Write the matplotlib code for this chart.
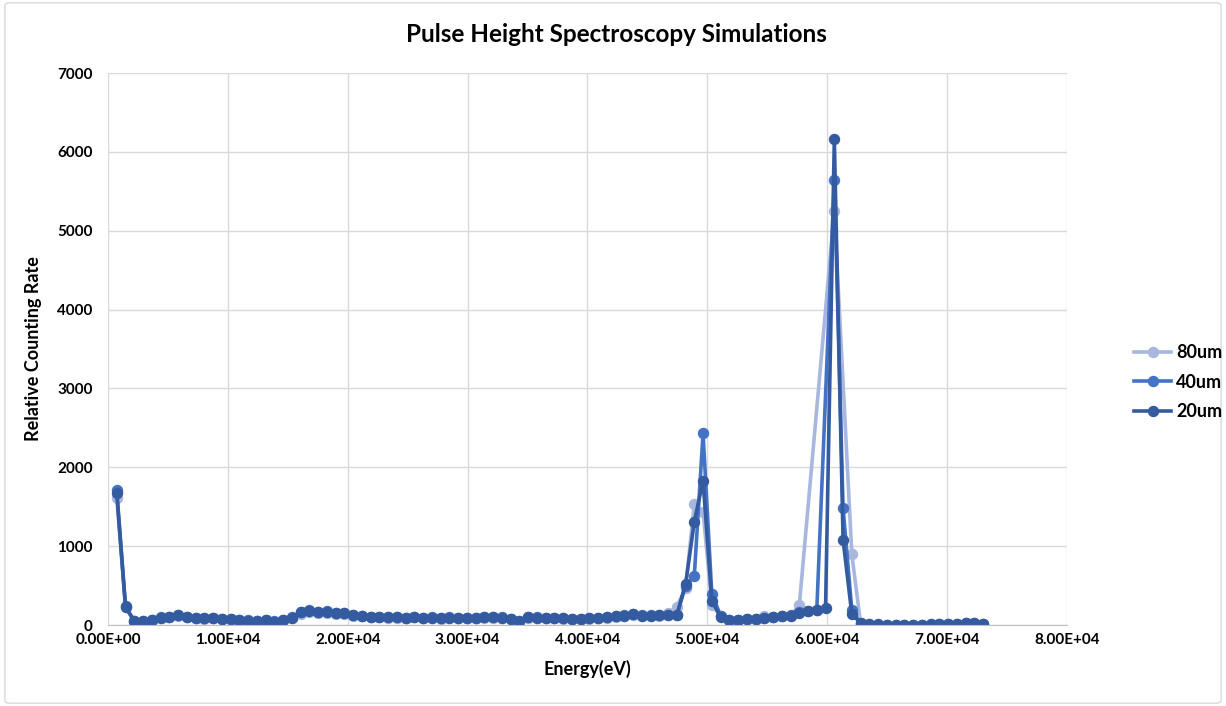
import matplotlib
matplotlib.use("Agg")
import matplotlib.pyplot as plt
from matplotlib.patches import FancyBboxPatch

# bin energies (eV)
energy = [730, 1460, 2190, 2920, 3650, 4380, 5110, 5840, 6570, 7300,
          8030, 8760, 9490, 10220, 10950, 11680, 12410, 13140, 13870, 14600,
          15330, 16060, 16790, 17520, 18250, 18980, 19710, 20440, 21170, 21900,
          22630, 23360, 24090, 24820, 25550, 26280, 27010, 27740, 28470, 29200,
          29930, 30660, 31390, 32120, 32850, 33580, 34310, 35040, 35770, 36500,
          37230, 37960, 38690, 39420, 40150, 40880, 41610, 42340, 43070, 43800,
          44530, 45260, 45990, 46720, 47450, 48180, 48910, 49640, 50370, 51100,
          51830, 52560, 53290, 54020, 54750, 55480, 56210, 56940, 57670, 58400,
          59130, 59860, 60590, 61320, 62050, 62780, 63510, 64240, 64970, 65700,
          66430, 67160, 67890, 68620, 69350, 70080, 70810, 71540, 72270, 73000]

# None = no point in that bin
rate_80 = [1610, 225, 45, 40, 60, 88, 100, 118, 98, 88,
           82, 84, 72, 70, 60, 52, 48, 58, 40, 60,
           85, 140, 160, 150, 158, 142, 140, 120, 112, 100,
           98, 92, 92, 88, 98, 84, 88, 82, 90, 86,
           88, 84, 95, 92, 90, 76, 44, 95, 90, 86,
           88, 80, 76, 74, 80, 86, 95, 104, 112, 130,
           112, 112, 118, 150, 232, 470, 1530, 1436, 260, 110,
           60, 66, 72, 76, 110, 96, 110, 115, 250, None,
           None, None, 5250, None, 900, 20, 8, 6, 6, 5,
           5, 6, 6, 8, 8, 10, 12, 20, 18, 10]

rate_40 = [1710, 235, 52, 48, 66, 96, 108, 130, 108, 95,
           90, 90, 80, 78, 66, 58, 52, 66, 45, 66,
           96, 165, 185, 165, 175, 155, 152, 130, 120, 108,
           108, 100, 100, 95, 108, 90, 96, 90, 98, 92,
           95, 90, 103, 100, 98, 82, 48, 103, 98, 92,
           95, 88, 82, 80, 88, 92, 102, 112, 122, 142,
           122, 122, 128, 132, 128, 500, 625, 2430, 393, 120,
           60, 68, 76, 82, 92, 102, 118, 124, 160, 180,
           196, None, 5640, 1483, 188, 15, 6, 5, 5, 5,
           6, 6, 5, 6, 8, 8, 12, 22, 20, 10]

rate_20 = [1670, 232, 50, 45, 63, 93, 105, 127, 105, 93,
           88, 88, 76, 76, 63, 55, 50, 63, 42, 63,
           93, 160, 178, 160, 170, 150, 150, 127, 118, 105,
           105, 97, 97, 93, 105, 88, 93, 88, 95, 90,
           92, 88, 100, 98, 95, 80, 45, 100, 95, 90,
           92, 85, 80, 78, 85, 90, 100, 110, 120, 140,
           120, 120, 125, 130, 125, 516, 1310, 1830, 305, 105,
           63, 70, 75, 80, 90, 100, 115, 120, 150, 175,
           190, 218, 6160, 1082, 140, 25, 10, 8, 6, 6,
           6, 5, 6, 7, 8, 10, 14, 25, 22, 12]

labels = ["80um", "40um", "20um"]
colors = ["#a8b7de", "#4472c4", "#345a9f"]

plt.rcParams['font.family'] = ['Lato', 'DejaVu Sans']
plt.rcParams['font.weight'] = 'bold'

fig = plt.figure(figsize=(12.26, 7.06), dpi=100)
ax = fig.add_axes([0.0881, 0.1147, 0.7822, 0.7819])

for lab, col, ys in zip(labels, colors, [rate_80, rate_40, rate_20]):
    xs = [e for e, v in zip(energy, ys) if v is not None]
    vs = [v for v in ys if v is not None]
    ax.plot(xs, vs, color=col, lw=2.6, marker='o', ms=7.2, label=lab)

ax.set_xlim(0, 80000)
ax.set_ylim(0, 7000)
ax.set_xticks(range(0, 80001, 10000))
ax.set_yticks(range(0, 7001, 1000))
ax.set_xticklabels(["%.2E" % t for t in range(0, 80001, 10000)])
ax.grid(True, color='#d9d9d9', lw=1)
ax.set_axisbelow(True)
for s in ['top', 'right', 'left']:
    ax.spines[s].set_visible(False)
ax.spines['bottom'].set_color('#bfbfbf')
ax.tick_params(length=0, labelsize=11)
ax.tick_params(axis='y', pad=11)
ax.tick_params(axis='x', pad=6)

ax.set_xlabel("Energy(eV)", fontsize=13, fontweight='bold', labelpad=9)
ax.set_ylabel("Relative Counting Rate", fontsize=13, fontweight='bold', labelpad=11)
fig.text(0.503, 1 - 35 / 706, "Pulse Height Spectroscopy Simulations",
         fontsize=17.5, fontweight='bold', ha='center', va='center')

fig.legend(loc='center left', bbox_to_anchor=(0.912, 1 - 382 / 706), frameon=False,
           fontsize=13, handlelength=2.05, handletextpad=0.25, labelspacing=0.7)

fig.patches.append(FancyBboxPatch((0.004, 0.004), 0.992, 0.992,
                                  boxstyle="round,pad=0,rounding_size=0.004",
                                  transform=fig.transFigure, fill=False,
                                  edgecolor='#d9d9d9', lw=1))

fig.savefig("out.png", dpi=100)
